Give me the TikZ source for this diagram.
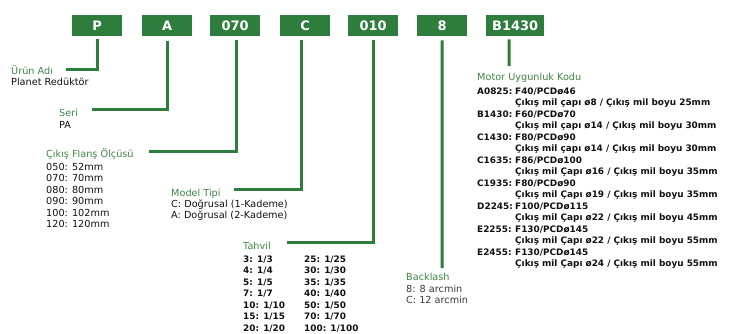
\documentclass[tikz,border=0pt]{standalone}
\usepackage{fontspec}
\setmainfont{DejaVu Sans}
\usetikzlibrary{positioning}
\definecolor{boxgreen}{HTML}{2F7D3C}
\definecolor{labgreen}{HTML}{3D8743}
\definecolor{ink}{HTML}{111111}
\definecolor{softink}{HTML}{3A3A3A}

\tikzset{
  codebox/.style={fill=boxgreen, text=white, font=\bfseries\fontsize{13}{15}\selectfont,
    minimum width=50pt, minimum height=21pt, inner sep=0pt, anchor=north west},
  conn/.style={draw=boxgreen, line width=3pt},
  labtitle/.style={text=labgreen, font=\fontsize{9.7}{11.5}\selectfont, anchor=base west, inner sep=0pt},
  listreg/.style={text=ink, font=\fontsize{9.7}{11.5}\selectfont, anchor=base west, inner sep=0pt},
  listbold/.style={text=ink, font=\bfseries\fontsize{8.9}{11.5}\selectfont, anchor=base west, inner sep=0pt},
}

\begin{document}
\begin{tikzpicture}[x=1pt,y=-1pt]
  \useasboundingbox (0,0) rectangle (729,333);
  % code boxes
  \node[codebox] (prod)     at (72,15)  {P};
  \node[codebox] (series)   at (142,15) {A};
  \node[codebox] (flange)   at (210,15) {070};
  \node[codebox] (model)    at (280,15) {C};
  \node[codebox] (ratio)    at (348,15) {010};
  \node[codebox] (backlash) at (417,15) {8};
  \node[codebox, minimum width=58pt] (motor) at (486,15) {B1430};

  % Ürün Adı
  \node[labtitle] (prodtitle) at (11,74) {Ürün Adı};
  \node[listreg]  (prodlist)  at (11,85.5) {Planet Redüktör};
  \coordinate (prodend) at (66,69);
  \draw[conn] ([yshift=-3pt]prod.south) |- (prodend);

  % Seri
  \node[labtitle] (sertitle) at (59,116) {Seri};
  \node[listreg]  (serlist)  at (59,128) {PA};
  \coordinate (serend) at (92,109);
  \draw[conn] ([yshift=-5pt]series.south) |- (serend);

  % Çıkış Flanş Ölçüsü
  \node[labtitle] (flgtitle) at (46,157.3) {Çıkış Flanş Ölçüsü};
  \node[listreg]  (flglist)  at (46,170) {\begin{tabular}[t]{@{}l@{}}
    050: 52mm\\ 070: 70mm\\ 080: 80mm\\ 090: 90mm\\ 100: 102mm\\ 120: 120mm
  \end{tabular}};
  \coordinate (flgend) at (149,151.7);
  \draw[conn] ([xshift=1.7pt,yshift=-4pt]flange.south) |- (flgend);

  % Model Tipi
  \node[labtitle] (modtitle) at (171,196) {Model Tipi};
  \node[listreg]  (modlist)  at (171,207.3) {\begin{tabular}[t]{@{}l@{}}
    C: Doğrusal (1-Kademe)\\ A: Doğrusal (2-Kademe)
  \end{tabular}};
  \coordinate (modend) at (234,189);
  \draw[conn] ([xshift=-3.5pt,yshift=-4pt]model.south) |- (modend);

  % Tahvil
  \node[labtitle] (rattitle) at (243,249.3) {Tahvil};
  \node[listbold] (ratlist)  at (243,262.3) {\begin{tabular}[t]{@{}p{61pt}@{}l@{}}
    3: 1/3 & 25: 1/25\\ 4: 1/4 & 30: 1/30\\ 5: 1/5 & 35: 1/35\\ 7: 1/7 & 40: 1/40\\
    10: 1/10 & 50: 1/50\\ 15: 1/15 & 70: 1/70\\ 20: 1/20 & 100: 1/100
  \end{tabular}};
  \coordinate (ratend) at (287,242.3);
  \draw[conn] ([yshift=-4pt]ratio.south) |- (ratend);

  % Backlash
  \node[labtitle] (bcktitle) at (406,280.7) {Backlash};
  \node[listreg, text=softink] (bcklist) at (406,292.3) {\begin{tabular}[t]{@{}l@{}}
    8: 8 arcmin\\ C: 12 arcmin
  \end{tabular}};
  \coordinate (bckend) at (442,268);
  \draw[conn] ([yshift=-4pt]backlash.south) -- (bckend);

  % Motor Uygunluk Kodu
  \node[labtitle] (mottitle) at (477,80.7) {Motor Uygunluk Kodu};
  \node[listbold] (motlist)  at (477,94) {\begin{tabular}[t]{@{}p{38pt}@{}l@{}}
    A0825: & F40/PCDø46\\ & Çıkış mil çapı ø8 / Çıkış mil boyu 25mm\\
    B1430: & F60/PCDø70\\ & Çıkış mil çapı ø14 / Çıkış mil boyu 30mm\\
    C1430: & F80/PCDø90\\ & Çıkış mil çapı ø14 / Çıkış mil boyu 30mm\\
    C1635: & F86/PCDø100\\ & Çıkış mil Çapı ø16 / Çıkış mil boyu 35mm\\
    C1935: & F80/PCDø90\\ & Çıkış mil Çapı ø19 / Çıkış mil boyu 35mm\\
    D2245: & F100/PCDø115\\ & Çıkış mil Çapı ø22 / Çıkış mil boyu 45mm\\
    E2255: & F130/PCDø145\\ & Çıkış mil Çapı ø22 / Çıkış mil boyu 55mm\\
    E2455: & F130/PCDø145\\ & Çıkış mil Çapı ø24 / Çıkış mil boyu 55mm
  \end{tabular}};
  \coordinate (motend) at (509,66);
  \draw[conn] ([xshift=-6pt,yshift=-3pt]motor.south) -- (motend);
\end{tikzpicture}
\end{document}
